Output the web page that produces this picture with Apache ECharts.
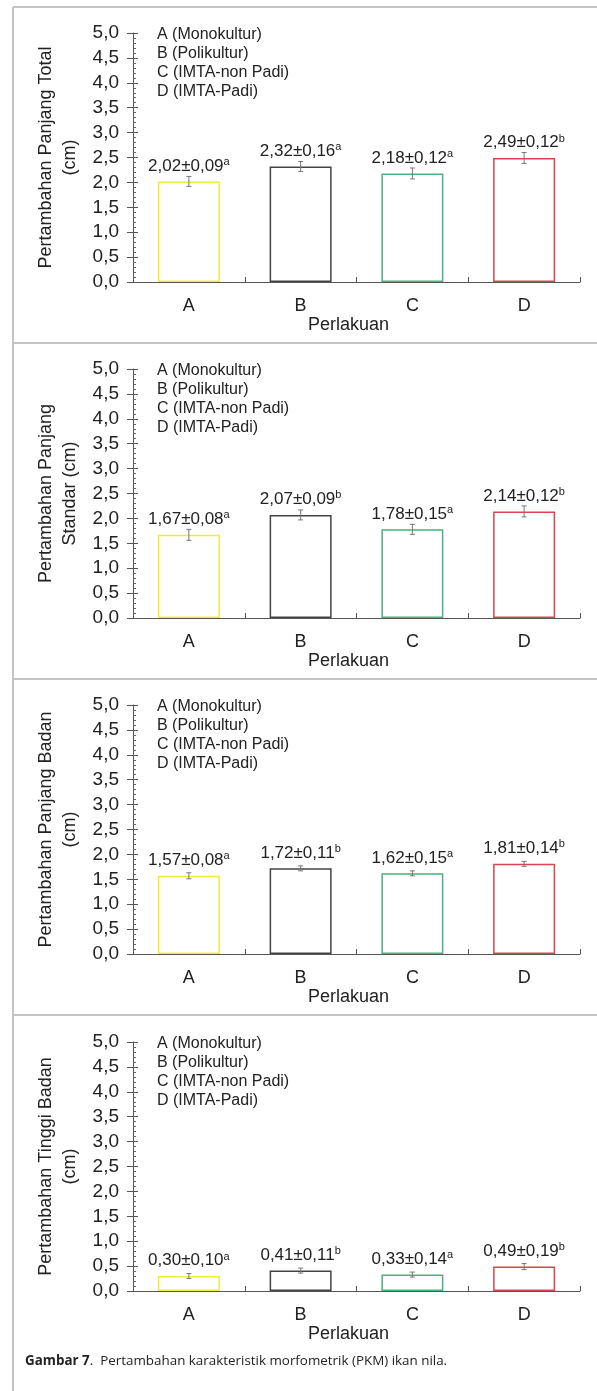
<!DOCTYPE html>
<html>
<head>
<meta charset="utf-8">
<script src="https://cdn.jsdelivr.net/npm/echarts@6/dist/echarts.min.js"></script>
<style>
html,body{margin:0;padding:0;background:#fff;}
#c{width:597px;height:1391px;}
</style>
</head>
<body>
<div id="c"></div>
<script>
const categories = ['A', 'B', 'C', 'D'];
const legendLabels = ['A (Monokultur)', 'B (Polikultur)', 'C (IMTA-non Padi)', 'D (IMTA-Padi)'];
const barColors = ['#eeee3a', '#444444', '#45b57c', '#dc4450'];
const yAxisNames = ['Pertambahan Panjang Total\n(cm)', 'Pertambahan Panjang\nStandar (cm)', 'Pertambahan Panjang Badan\n(cm)', 'Pertambahan Tinggi Badan\n(cm)'];
const xAxisName = 'Perlakuan';

// means, reported SD (label text), significance letters, and drawn error-bar half-lengths
const meanTotal = [2.02, 2.32, 2.18, 2.49];
const sdTotal = [0.09, 0.16, 0.12, 0.12];
const letterTotal = ['a', 'a', 'a', 'b'];
const errBarTotal = [0.10, 0.10, 0.11, 0.11];

const meanStandar = [1.67, 2.07, 1.78, 2.14];
const sdStandar = [0.08, 0.09, 0.15, 0.12];
const letterStandar = ['a', 'b', 'a', 'b'];
const errBarStandar = [0.11, 0.10, 0.10, 0.11];

const meanBadan = [1.57, 1.72, 1.62, 1.81];
const sdBadan = [0.08, 0.11, 0.15, 0.14];
const letterBadan = ['a', 'b', 'a', 'b'];
const errBarBadan = [0.06, 0.05, 0.05, 0.05];

const meanTinggi = [0.30, 0.41, 0.33, 0.49];
const sdTinggi = [0.10, 0.11, 0.14, 0.19];
const letterTinggi = ['a', 'b', 'a', 'b'];
const errBarTinggi = [0.05, 0.05, 0.05, 0.06];

const yMin = 0, yMax = 5, yInterval = 0.5;
const captionBold = 'Gambar 7';
const captionRest = '.  Pertambahan karakteristik morfometrik (PKM) ikan nila.';

const panels = [
  {mean: meanTotal, sd: sdTotal, letter: letterTotal, err: errBarTotal, name: yAxisNames[0]},
  {mean: meanStandar, sd: sdStandar, letter: letterStandar, err: errBarStandar, name: yAxisNames[1]},
  {mean: meanBadan, sd: sdBadan, letter: letterBadan, err: errBarBadan, name: yAxisNames[2]},
  {mean: meanTinggi, sd: sdTinggi, letter: letterTinggi, err: errBarTinggi, name: yAxisNames[3]}
];

const FONT = '"Liberation Sans", Arial, sans-serif';
const gridTops = [33, 369, 705, 1042];
const gridH = 249;
const gridLeft = 133, gridRight = 17;
const fmt2 = v => v.toFixed(2).replace('.', ',');

const grids = [], xAxes = [], yAxes = [], series = [], graphics = [];

panels.forEach((p, k) => {
  grids.push({left: gridLeft, right: gridRight, top: gridTops[k], height: gridH});
  xAxes.push({
    type: 'category', gridIndex: k, data: categories,
    name: xAxisName, nameLocation: 'middle', nameGap: 34,
    nameTextStyle: {fontFamily: FONT, fontSize: 18, color: '#222', padding: [0, 16, 0, 0]},
    axisLine: {lineStyle: {color: '#555', width: 1}},
    axisTick: {show: true, inside: true, length: 5, alignWithLabel: false, lineStyle: {color: '#555'}},
    axisLabel: {fontFamily: FONT, fontSize: 18, color: '#222', margin: 15}
  });
  yAxes.push({
    type: 'value', gridIndex: k, min: yMin, max: yMax, interval: yInterval,
    name: p.name, nameLocation: 'middle', nameGap: 51,
    nameTextStyle: {fontFamily: FONT, fontSize: 18, color: '#222', lineHeight: 24},
    axisLine: {show: true, lineStyle: {color: '#555', width: 1}},
    axisTick: {show: true, inside: false, length: 6, lineStyle: {color: '#555'}},
    axisLabel: {fontFamily: FONT, fontSize: 19, color: '#222', margin: 14, formatter: v => v.toFixed(1).replace('.', ',')},
    splitLine: {show: false}
  });
  yAxes.push({
    type: 'value', gridIndex: k, min: yMin, max: yMax, interval: yInterval, position: 'left',
    axisLine: {show: false},
    axisTick: {show: true, inside: true, length: 5, lineStyle: {color: '#555'}},
    minorTick: {show: true, splitNumber: 5, length: 3, lineStyle: {color: '#666'}},
    axisLabel: {show: false},
    splitLine: {show: false}
  });
  series.push({
    type: 'bar', xAxisIndex: k, yAxisIndex: 2 * k, barWidth: 62,
    data: p.mean.map((m, i) => ({
      value: m,
      itemStyle: {color: '#fff', borderColor: barColors[i], borderWidth: 1.5}
    })),
    label: {
      show: true, position: 'top', distance: 6,
      formatter: prm => '{v|' + fmt2(p.mean[prm.dataIndex]) + '±' + fmt2(p.sd[prm.dataIndex]) + '}{s|' + p.letter[prm.dataIndex] + '}',
      rich: {
        v: {fontFamily: FONT, fontSize: 17, color: '#222', lineHeight: 19},
        s: {fontFamily: FONT, fontSize: 11, color: '#222', verticalAlign: 'top'}
      }
    },
    z: 2
  });
  series.push({
    type: 'custom', xAxisIndex: k, yAxisIndex: 2 * k,
    data: p.mean.map((m, i) => [i, m, p.err[i]]),
    encode: {x: 0, y: 1},
    renderItem: (params, api) => {
      const x = api.value(0), m = api.value(1), e = api.value(2);
      const t = api.coord([x, m + e]);
      const b = api.coord([x, m - e]);
      const w = 2.5;
      const st = {stroke: '#777', lineWidth: 1};
      return {type: 'group', children: [
        {type: 'line', shape: {x1: t[0], y1: t[1], x2: b[0], y2: b[1]}, style: st},
        {type: 'line', shape: {x1: t[0] - w, y1: t[1], x2: t[0] + w, y2: t[1]}, style: st},
        {type: 'line', shape: {x1: b[0] - w, y1: b[1], x2: b[0] + w, y2: b[1]}, style: st}
      ]};
    },
    z: 3
  });
  legendLabels.forEach((t, i) => {
    graphics.push({
      type: 'text', left: 157, top: gridTops[k] - 6 + i * 18.8,
      style: {text: t, fontFamily: FONT, fontSize: 16, fill: '#222'}
    });
  });
});

const borderColor = '#c4c4c4';
graphics.push({type: 'line', shape: {x1: 13, y1: 7, x2: 13, y2: 1391}, style: {stroke: borderColor, lineWidth: 2}});
[7, 343, 679, 1015].forEach(y => {
  graphics.push({type: 'line', shape: {x1: 13, y1: y, x2: 597, y2: y}, style: {stroke: borderColor, lineWidth: 2}});
});
graphics.push({
  type: 'text', left: 25, top: 1355,
  style: {
    text: '{b|' + captionBold + '}{n|' + captionRest + '}',
    rich: {
      b: {fontFamily: '"Open Sans", sans-serif', fontSize: 13.4, fontWeight: 'bold', fill: '#222'},
      n: {fontFamily: '"Open Sans", sans-serif', fontSize: 13.4, fill: '#222'}
    }
  }
});

const chart = echarts.init(document.getElementById('c'), null, {renderer: 'canvas'});
chart.setOption({
  animation: false,
  backgroundColor: '#fff',
  grid: grids, xAxis: xAxes, yAxis: yAxes, series: series, graphic: graphics
});
</script>
</body>
</html>
